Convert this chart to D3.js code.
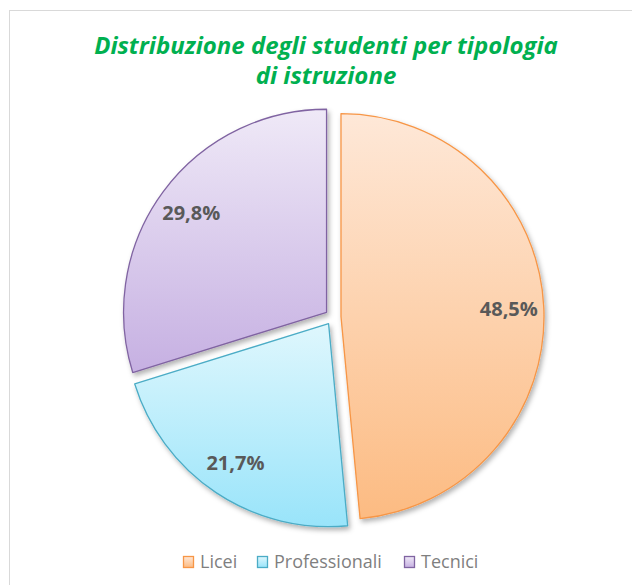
<!DOCTYPE html>
<html>
<head>
<meta charset="utf-8">
<script src="https://cdn.jsdelivr.net/npm/d3@7"></script>
<style>
  body { margin: 0; background: #fff; }
  svg { display: block; }
</style>
</head>
<body>
<div id="chart"></div>
<script>
var categories = ["Licei", "Professionali", "Tecnici"];
var values = [48.5, 21.7, 29.8];
var labels = ["48,5%", "21,7%", "29,8%"];
var titleLines = ["Distribuzione degli studenti per tipologia", "di istruzione"];

var strokeColors = ["#F79646", "#4BACC6", "#8064A2"];
var gradTop = ["#FEE8D8", "#DFF7FD", "#EFE9F7"];
var gradBottom = ["#FCBB82", "#99E4FA", "#C6B0E2"];

var width = 632, height = 585;
var cx = 333, cy = 317, radius = 203, explode = 8, labelR = 168;

var svg = d3.select("#chart").append("svg")
    .attr("width", width)
    .attr("height", height);

var defs = svg.append("defs");

var shadow = defs.append("filter")
    .attr("id", "shadow")
    .attr("x", "-10%").attr("y", "-10%")
    .attr("width", "130%").attr("height", "130%");
shadow.append("feDropShadow")
    .attr("dx", 2).attr("dy", 3)
    .attr("stdDeviation", 2.5)
    .attr("flood-color", "#000")
    .attr("flood-opacity", 0.3);

categories.forEach(function(c, i) {
  var g = defs.append("linearGradient")
      .attr("id", "grad" + i)
      .attr("x1", 0).attr("y1", 0)
      .attr("x2", 0).attr("y2", 1);
  g.append("stop").attr("offset", "0%").attr("stop-color", gradTop[i]);
  g.append("stop").attr("offset", "100%").attr("stop-color", gradBottom[i]);
});

// chart area border
svg.append("rect")
    .attr("x", 9.5).attr("y", 10.5)
    .attr("width", width + 20).attr("height", height + 20)
    .attr("fill", "none")
    .attr("stroke", "#D9D9D9")
    .attr("stroke-width", 1);

// title
var title = svg.append("text")
    .attr("text-anchor", "middle")
    .style("font-family", "'Open Sans', 'Noto Sans', sans-serif")
    .style("font-weight", "bold")
    .style("font-style", "italic")
    .style("font-size", "24px")
    .attr("fill", "#00B050");
title.selectAll("tspan")
    .data(titleLines)
  .enter().append("tspan")
    .attr("x", 326)
    .attr("y", function(d, i) { return 54 + i * 30; })
    .text(function(d) { return d; });

var pie = d3.pie().sort(null).startAngle(0).endAngle(2 * Math.PI);
var arcs = pie(values);

var arc = d3.arc().innerRadius(0).outerRadius(radius);
var labelArc = d3.arc().innerRadius(labelR).outerRadius(labelR);

function offset(d) {
  var a = (d.startAngle + d.endAngle) / 2;
  return [Math.sin(a) * explode, -Math.cos(a) * explode];
}

var slices = svg.append("g")
    .attr("transform", "translate(" + cx + "," + cy + ")")
  .selectAll(".slice")
    .data(arcs)
  .enter().append("g")
    .attr("class", "slice")
    .attr("transform", function(d) { var o = offset(d); return "translate(" + o[0] + "," + o[1] + ")"; });

slices.append("path")
    .attr("d", arc)
    .attr("fill", function(d, i) { return "url(#grad" + i + ")"; })
    .attr("stroke", function(d, i) { return strokeColors[i]; })
    .attr("stroke-width", 1.3)
    .attr("stroke-linejoin", "round")
    .attr("filter", "url(#shadow)");

slices.append("text")
    .attr("transform", function(d) { return "translate(" + labelArc.centroid(d) + ")"; })
    .attr("text-anchor", "middle")
    .attr("dy", "0.35em")
    .style("font-family", "'Open Sans', 'Noto Sans', sans-serif")
    .style("font-weight", "bold")
    .style("font-size", "20px")
    .attr("fill", "#595959")
    .text(function(d, i) { return labels[i]; });

// legend
var legendX = [183, 257, 404];
var legend = svg.selectAll(".legend")
    .data(categories)
  .enter().append("g")
    .attr("class", "legend")
    .attr("transform", function(d, i) { return "translate(" + legendX[i] + ",562)"; });

legend.append("rect")
    .attr("x", 0.5).attr("y", -5.5)
    .attr("width", 10).attr("height", 11)
    .attr("fill", function(d, i) { return "url(#grad" + i + ")"; })
    .attr("stroke", function(d, i) { return strokeColors[i]; })
    .attr("stroke-width", 1.3);

legend.append("text")
    .attr("x", 17)
    .attr("dy", "0.35em")
    .style("font-family", "'Open Sans', 'Noto Sans', sans-serif")
    .style("font-size", "18px")
    .attr("fill", "#7F7F7F")
    .text(function(d) { return d; });
</script>
</body>
</html>
